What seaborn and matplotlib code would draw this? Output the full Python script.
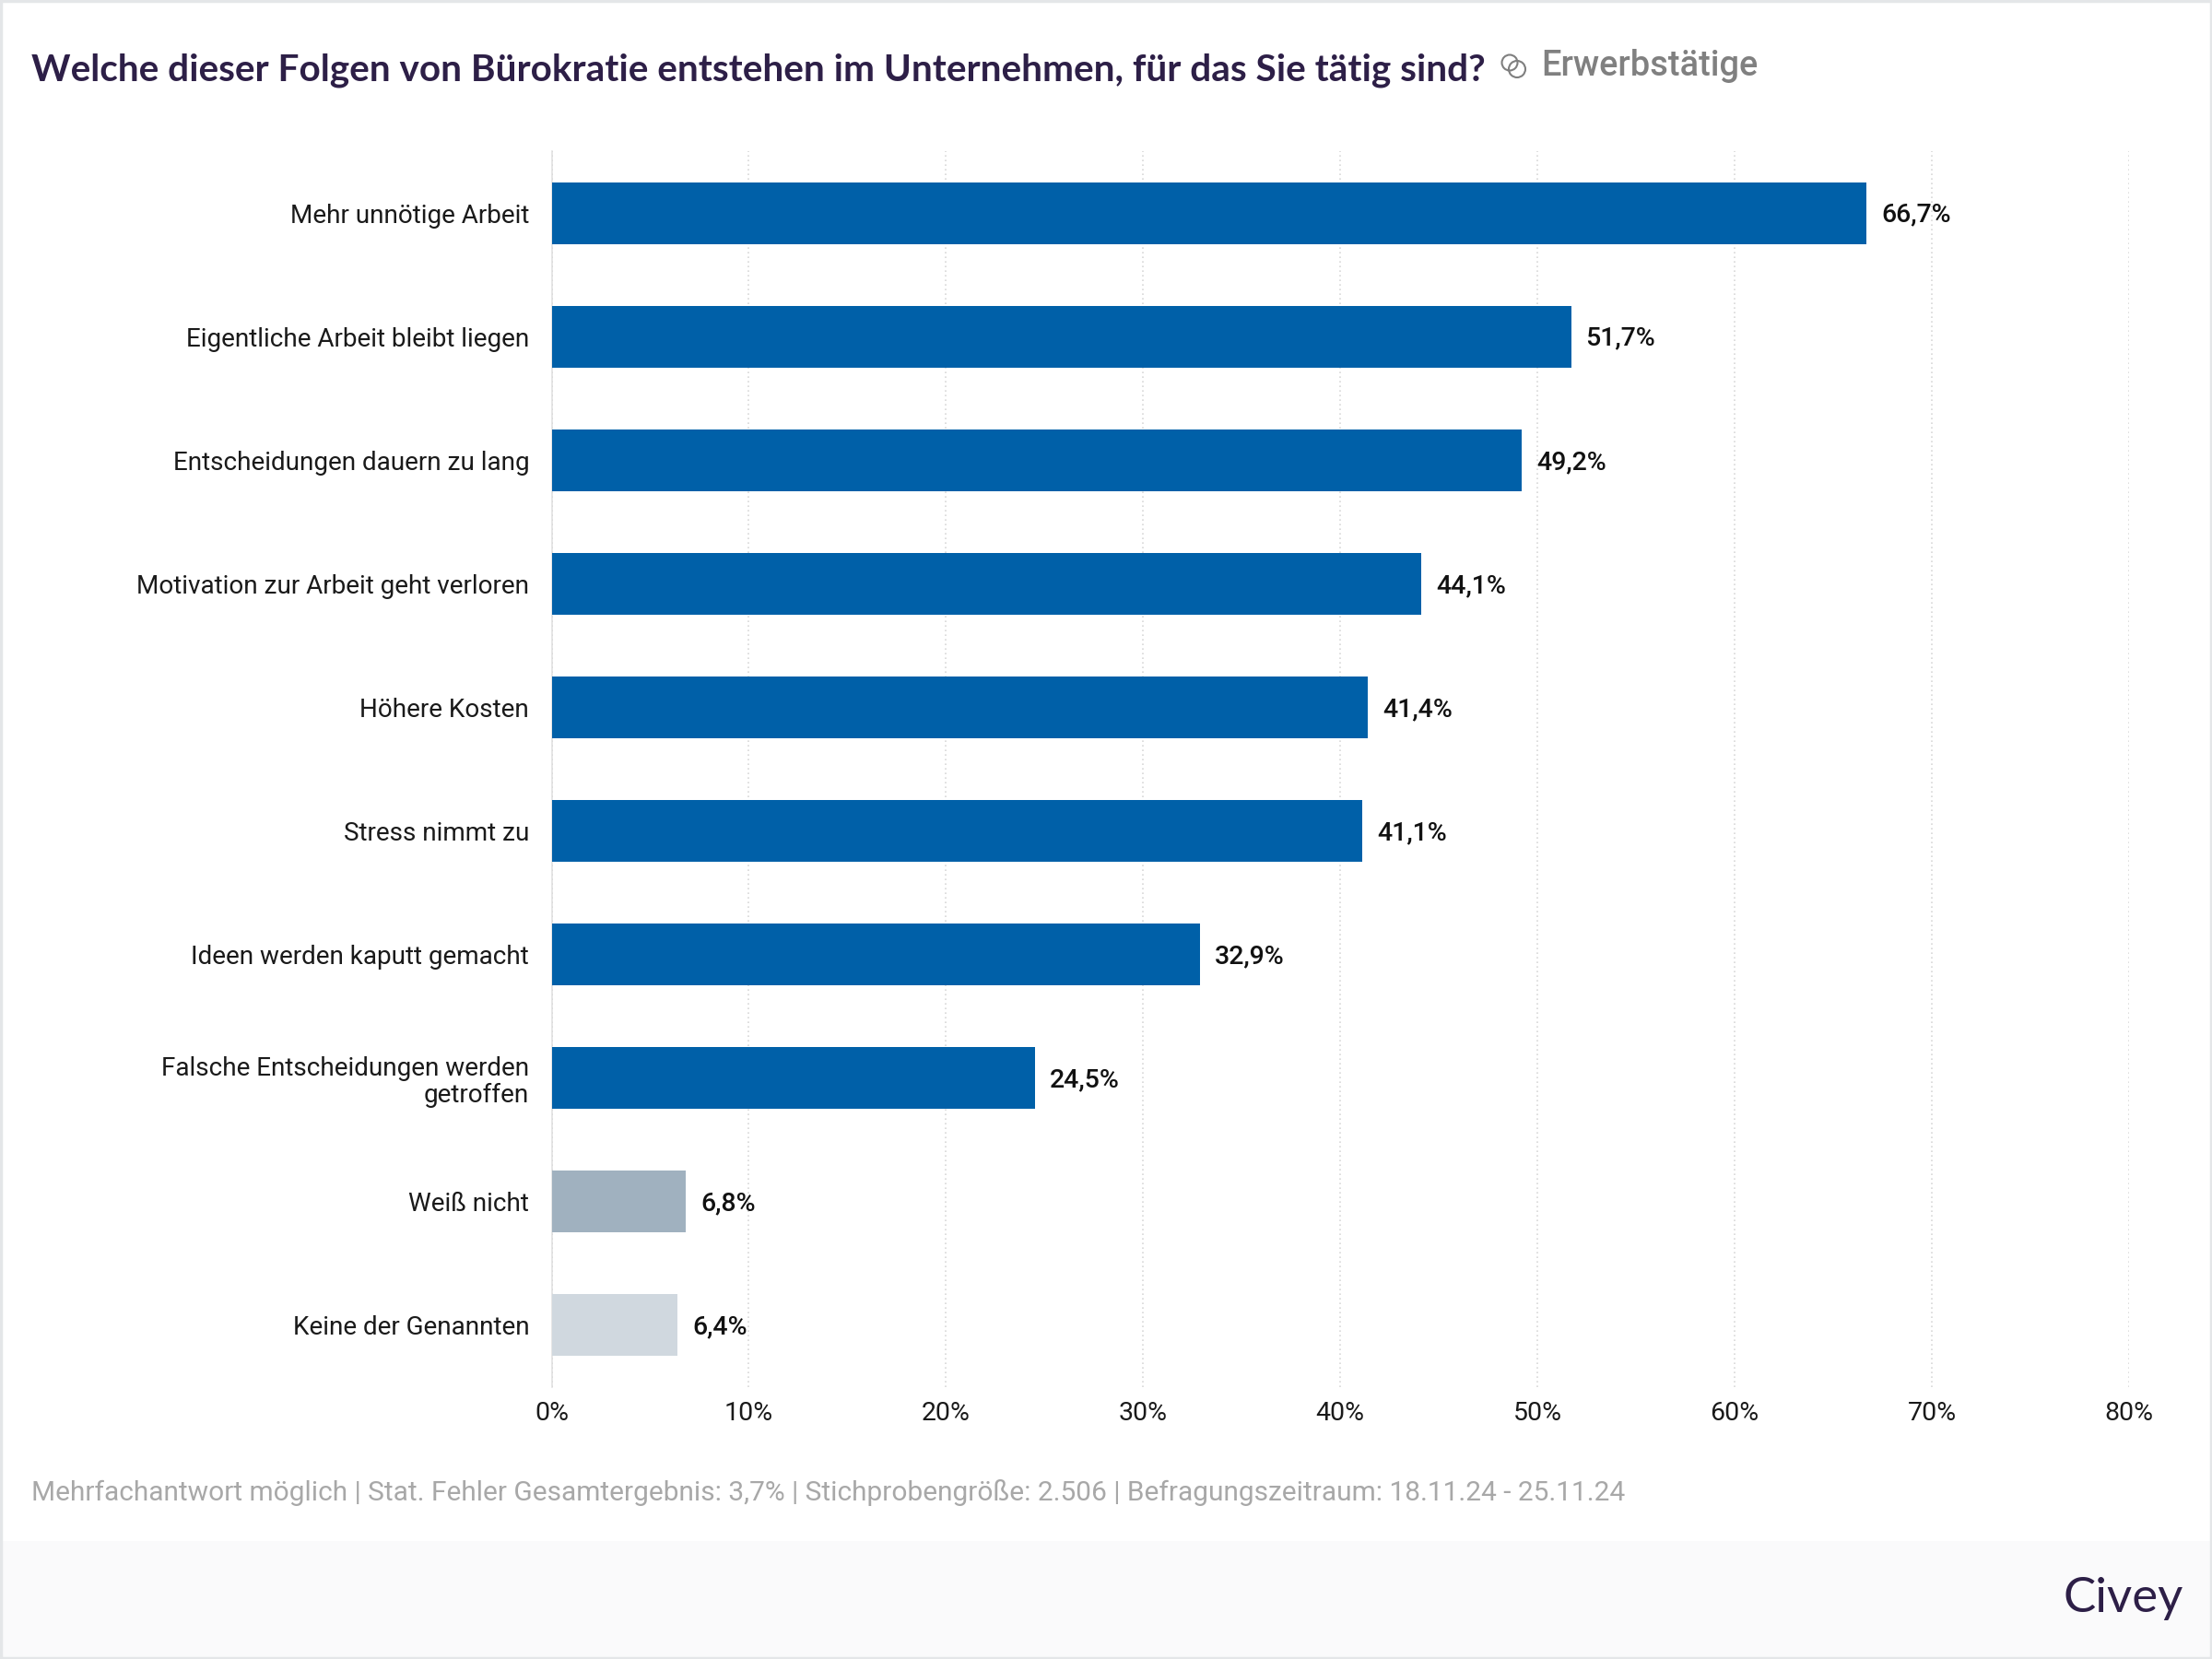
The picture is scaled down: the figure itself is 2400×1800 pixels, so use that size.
import matplotlib
matplotlib.use("Agg")
import matplotlib.pyplot as plt
from matplotlib.patches import Circle, Rectangle
import pandas as pd
import seaborn as sns

categories = [
    "Mehr unnötige Arbeit",
    "Eigentliche Arbeit bleibt liegen",
    "Entscheidungen dauern zu lang",
    "Motivation zur Arbeit geht verloren",
    "Höhere Kosten",
    "Stress nimmt zu",
    "Ideen werden kaputt gemacht",
    "Falsche Entscheidungen werden\ngetroffen",
    "Weiß nicht",
    "Keine der Genannten",
]
values = [66.7, 51.7, 49.2, 44.1, 41.4, 41.1, 32.9, 24.5, 6.8, 6.4]
bar_colors = ["#0060a8"] * 8 + ["#a0b1bf", "#d0d8df"]
x_ticks = [0, 10, 20, 30, 40, 50, 60, 70, 80]

W, H = 2400, 1800

sns.set_theme(style="white")
plt.rcParams["font.family"] = ["Roboto", "DejaVu Sans"]

df = pd.DataFrame({"category": categories, "value": values})

fig = plt.figure(figsize=(24, 18), dpi=100, facecolor="white")

# footer and outer border
fig.add_artist(Rectangle((0, 0), 1, (H - 1672) / H, transform=fig.transFigure, fc="#fafafb", ec="none"))
fig.add_artist(Rectangle((0.0006, 0.0008), 0.9988, 0.9984, transform=fig.transFigure, fc="none", ec="#e4e6e8", lw=2.5))

ax = fig.add_axes([598.5 / W, 1 - 1505 / H, (2310 - 598.5) / W, (1505 - 164) / H])
sns.barplot(data=df, y="category", x="value", hue="category", palette=bar_colors,
            width=0.5, dodge=False, legend=False, saturation=1, linewidth=0, edgecolor="none", ax=ax)

ax.set_xlim(0, 80)
ax.set_ylim(9.5, -0.5)
ax.set_xticks(x_ticks)
ax.set_xticklabels([f"{t}%" for t in x_ticks], fontsize=20.5, color="#1a1a1a")
ax.tick_params(axis="x", length=0, pad=10.5)
ax.tick_params(axis="y", length=0, pad=17.5, labelsize=20.1, labelcolor="#1a1a1a")
ax.set_xlabel("")
ax.set_ylabel("")
for label in ax.get_yticklabels():
    label.set_linespacing(1.1)
    label.set_va("center_baseline")

ax.grid(axis="x", linestyle=(0, (1, 2)), color="#d8d8d8", linewidth=1.2)
ax.set_axisbelow(True)
sns.despine(ax=ax, top=True, right=True, bottom=True)
ax.spines["left"].set_color("#e2e2e2")
ax.spines["left"].set_linewidth(1.2)
ax.spines["left"].set_zorder(0.5)

for i, v in enumerate(values):
    ax.annotate(f"{v:.1f}%".replace(".", ","), (v, i), xytext=(11.5, -1.5), textcoords="offset points",
                va="center", ha="left", fontsize=20.5, fontweight="medium", color="#111111")

# header
fig.text(34 / W, 1 - 76 / H, "Welche dieser Folgen von Bürokratie entstehen im Unternehmen, für das Sie tätig sind?",
         fontsize=29.2, fontweight="bold", family=["Lato", "DejaVu Sans"], color="#2d1f47", va="center", ha="left")
for cx, cy, r in [(1638, 68, 8.5), (1646, 75, 9)]:
    fig.add_artist(Circle((cx, H - cy), r, transform=None, fc="none", ec="#7f7f7f", lw=1.5))
fig.text(1672 / W, 1 - 72 / H, "Erwerbstätige", fontsize=27.4, fontweight="medium", color="#808080", va="center", ha="left")

# footer text
fig.text(34 / W, 1 - 1619 / H,
         "Mehrfachantwort möglich | Stat. Fehler Gesamtergebnis: 3,7% | Stichprobengröße: 2.506 | Befragungszeitraum: 18.11.24 - 25.11.24",
         fontsize=21.5, color="#a8a8a8", va="center", ha="left")
fig.text(2369 / W, 1 - 1735 / H, "Civey", fontsize=38, family=["Lato", "DejaVu Sans"], color="#2d1f47", va="center", ha="right")

fig.savefig("out.png", dpi=100, facecolor=fig.get_facecolor())
